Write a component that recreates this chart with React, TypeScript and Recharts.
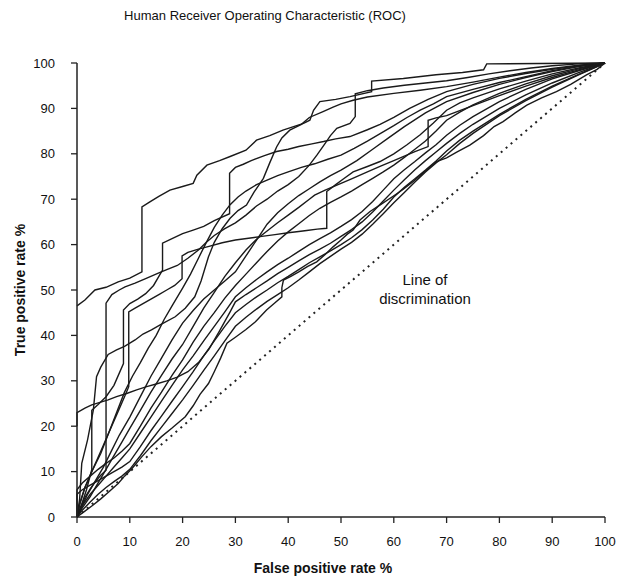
import React from 'react';
import { LineChart, Line, XAxis, YAxis } from 'recharts';

// axis ticks (percent)
const xTicks = [0, 10, 20, 30, 40, 50, 60, 70, 80, 90, 100];
const yTicks = [0, 10, 20, 30, 40, 50, 60, 70, 80, 90, 100];

// one array per reader, [false positive %, true positive %]
const rocA = [[0,46.5],[1.5,47.8],[3.4,50],[5.5,50.6],[7.8,51.8],[10,52.6],[12.3,54],[12.3,68.3],[13.8,69.4],[15.5,70.6],[17.6,72],[20,72.8],[22,73.5],[22.7,75.3],[24.6,77.5],[27,78.5],[29,79.4],[32,80.8],[34,83],[36.5,84],[39,85.2],[42.9,86.7],[44.1,87.4],[44.8,89.6],[46,91.5],[49,92],[51.7,92.6],[55.8,93.7],[55.8,96],[61.8,96.6],[68,97.4],[73,97.9],[77,98.5],[77.6,99.8],[100,100]];
const rocB = [[0,0],[0.5,4],[0.9,11.8],[2,17],[3.1,23.6],[3.7,30.9],[4.5,33],[5.9,35.8],[7.5,36.8],[9,37.6],[11,39],[12.5,40.3],[14.1,41.2],[16,42.5],[18.6,44.1],[20.5,46],[22.3,48.5],[23.5,52],[24.9,57.3],[26,60.5],[27.5,63.5],[29,65.8],[30.5,67.5],[32.1,68.7],[33.5,71.5],[35.3,74.6],[36.5,78],[37.8,81.5],[38.8,83.5],[40.3,85.2],[42.5,86.5],[44,88],[46.6,89.3],[48.5,90.3],[50,91],[52.3,91.8],[55,92.5],[60,93.3],[65,94],[70,94.8],[75,95.8],[80,96.9],[85,97.9],[90,98.8],[95,99.5],[100,100]];
const rocC = [[0,0],[0.8,2.5],[1.8,6],[2.8,10.5],[2.8,23.5],[4,24.8],[5.5,26.5],[7,29],[8.8,33.8],[8.8,45.6],[10,47],[11.5,48],[13,49.2],[14.5,51],[16.2,54.4],[16.2,60.3],[18,61.3],[20,62.4],[22,63.2],[24,64],[26,65.3],[28.9,66.8],[28.9,75.7],[30,77],[31.5,77.7],[33,78.5],[35.5,79.6],[37.8,80.5],[40,81],[42,81.6],[44.5,82.2],[46.7,82.7],[49,83.3],[51.7,83.8],[55,85.3],[57.4,86.5],[60,88],[63,90],[66.5,92],[70,93.7],[75,95.3],[80,96.6],[85,97.7],[90,98.6],[95,99.4],[100,100]];
const rocD = [[0,0],[0.7,2.2],[1.5,4.3],[2.5,6.2],[3.5,7.8],[4.5,9.2],[5.5,10.3],[5.5,47.1],[6.6,49],[8,50],[9.1,50.7],[11,51.5],[13,52.5],[15.4,53.7],[17,54.5],[19,55.4],[21,57],[23,58.8],[24.5,60.5],[26,62],[28,63.5],[30,64.8],[32,66.5],[34,68.5],[36,70],[38,71.8],[40,73.2],[42,75],[44,77.5],[45.5,79.8],[47,82.3],[48,84],[49.2,85.6],[51.7,86.7],[52.7,88.2],[52.7,93.2],[55,93.9],[58,94.5],[62,95.1],[66,95.6],[70,96.1],[74,96.8],[78,97.6],[82,98.3],[86,98.9],[90,99.4],[95,99.8],[100,100]];
const rocE = [[0,0],[0.5,3],[1.5,6.5],[3,10.5],[4.5,14],[6,18.5],[7.5,23],[9,27.5],[10.5,31],[12,34],[13.5,37.2],[15,40],[16.5,43.5],[18,46.5],[20,50.4],[21.5,53.5],[23,57],[24.5,60.5],[26,63.8],[27.5,66.5],[29,68.8],[30.5,70.5],[32,71.8],[34,73.2],[36,74.2],[38,75.2],[40,76],[42.5,77],[45,77.8],[47.5,78.8],[50,79.7],[52.5,81.2],[55,82.8],[57.5,84.5],[60,86.2],[62.5,88],[65,89.6],[67.5,91],[70,92.6],[75,94.2],[80,95.7],[85,97],[90,98.3],[95,99.3],[100,100]];
const rocF = [[0,0],[1,2.5],[2,5],[3.5,8],[5,11],[6.5,14.5],[8,18],[10,22],[12,26.5],[14,31],[16,35],[18,39],[20,42.7],[22,45.5],[24,48],[26,50],[28,52],[30,54],[32,57.5],[34,61],[36,64.5],[38,67],[40,69],[42,70.8],[44,72.3],[46,73.8],[48,75.2],[50,76.4],[53,78.5],[56,81],[59,83.5],[62,86],[66,89],[70,91.5],[75,93.5],[80,95.3],[85,96.8],[90,98.1],[95,99.2],[100,100]];
const rocG = [[0,0],[0.6,3],[1.5,6.5],[3,10.5],[4.5,14.5],[6,18.5],[7.5,22.5],[9,26.5],[9.8,28.7],[9.8,45.2],[11,46],[12.5,47],[14,48],[15.5,49],[17,50],[18.5,51],[19.9,52.5],[19.9,57.5],[21,58.3],[23,59],[25,59.6],[27.5,60.4],[30,61],[32.5,61.4],[35,61.8],[37.5,62.2],[40,62.6],[42,62.9],[43.5,63.1],[45.5,63.4],[47.3,63.6],[47.3,71.7],[49,73.2],[50.5,74.5],[52.3,76],[55,77.2],[57.4,78.3],[60,80],[62.5,82],[65,84.2],[67.5,86.8],[70,89.6],[72.5,91.2],[75,92.3],[80,94.3],[85,96],[90,97.6],[95,98.9],[100,100]];
const rocH = [[0,0],[1,2],[2.5,4.5],[4,7.5],[5.5,10.5],[7,13.5],[8.5,16.5],[10,19.5],[12,23.5],[14,27.5],[16,31.2],[18,34.8],[20,38],[22,42],[24,46],[26,49.5],[28,53],[30,56],[32,58.8],[34,61.2],[36,63],[38,64.8],[40,66.5],[42,68.2],[44,70],[45,70.9],[47,72],[50,73.5],[52,74.5],[55,76],[57.5,77.3],[60,78.5],[62,79.5],[64,80.5],[66.5,81.6],[66.5,87.4],[68,87.9],[70,88.4],[72.5,89.5],[75,90.6],[80,92.8],[85,94.9],[90,96.8],[95,98.5],[100,100]];
const rocI = [[0,0],[0,6],[1,7.5],[2.5,9],[4,10.5],[5.5,11.8],[7,13],[8.5,14.5],[10,16.2],[12,20],[14,24],[16,27.5],[18,31.2],[20,34.6],[22,38.5],[24,42],[26,45],[28,48.2],[30,51],[32,53.5],[34,56],[36,58.5],[38,60.8],[40,62.8],[42,64.6],[44,66.4],[46,68],[48,69.3],[50,70.5],[52,71.8],[54,73.2],[56,74.6],[58,76],[60,77.5],[62,79.2],[64,81],[66,82.8],[68,85],[70,87.4],[72.5,89.2],[75,90.8],[80,93.3],[85,95.4],[90,97.2],[95,98.7],[100,100]];
const rocJ = [[0,0],[1,2.5],[2.5,5],[4,7],[5.5,9],[7,11],[8.5,13],[10,15],[12,18.5],[14,22],[16,25.5],[18,29],[20,32.4],[22,35.5],[24,38.8],[26,42],[28,45.2],[30,48.5],[32,50.5],[34,52.3],[36,54],[38,55.6],[40,57],[42,58.5],[44,60],[46,61.3],[48,62.6],[50,64],[52,65.5],[54,67.3],[56,69.5],[58,72],[60,74.5],[62,76.5],[64,78.3],[66,80.2],[68,82],[70,84.1],[72.5,86.3],[75,88.2],[80,91.5],[85,94.2],[90,96.5],[95,98.3],[100,100]];
const rocK = [[0,20],[0,23],[1.5,24],[2.8,24.7],[4.5,25.3],[5.9,25.8],[7.5,26.5],[9.4,27.2],[11.3,28],[13.2,28.7],[15,29.3],[17,30],[19,30.8],[21,32],[23,34],[25,37],[27,41],[29,45.2],[30,47.4],[32,49],[34,50.5],[36,52],[38,53.6],[40,55],[42,56.4],[44,57.8],[46,59],[48,60.3],[50,61.8],[52,63.3],[54,65],[56,67.2],[58,69.6],[60,72],[62,74.3],[64,76.5],[66,78.5],[68,80.4],[70,82.3],[72.5,84.5],[75,86.5],[80,90],[85,93],[90,95.6],[95,97.9],[100,100]];
const rocL = [[0,0],[0,5],[1,6],[2.5,7],[4,8],[5.5,9],[7,10],[8.5,11],[10,12.2],[12,15.5],[14,19],[16,22.2],[18,25.5],[20,28.7],[22,32],[24,35.5],[26,38.8],[28,42],[30,45],[32,46.8],[34,48.5],[36,50],[38,51.6],[40,53],[42,54.5],[44,56],[46,57.3],[48,58.6],[50,60],[52,61.5],[54,63.3],[56,65.4],[58,67.8],[60,70.5],[62,72.6],[64,74.5],[66,76.4],[68,78.4],[70,80.6],[72.5,83],[75,85],[80,88.7],[85,92],[90,94.9],[95,97.5],[100,100]];
const rocM = [[0,0],[1,1.5],[2.5,3.3],[4,5],[5.5,6.5],[7,7.8],[8.5,9],[10,10.5],[12,13.5],[14,16.8],[16,19.8],[18,22.8],[20,25.8],[22,29],[24,32.3],[26,35.5],[28,38.8],[30,42],[32,44],[34,45.8],[36,47.5],[38,49],[40,50.5],[42,52.2],[44,54],[46,55.8],[48,57.4],[50,59],[52,60.5],[54,62.3],[56,64.5],[58,66.8],[60,69.2],[62,71.5],[64,73.8],[66,76],[68,78],[70,79.8],[72.5,82.3],[75,84.5],[80,88.4],[85,91.7],[90,94.7],[95,97.4],[100,100]];
const rocN = [[0,0],[1.5,1.3],[3,2.6],[4.5,4],[6,5.5],[7.8,7.4],[9,9],[10.5,10.8],[12.3,13.3],[14,15.5],[16,17.7],[18,19.6],[20.5,22.1],[22,24.5],[23.3,27],[24.9,29.4],[26,32],[27.2,35],[28.4,38.3],[30,39.6],[32,41.3],[33.8,43],[35.9,45.6],[37.5,47.2],[38.8,48.5],[38.8,50.5],[39.1,52.2],[40.5,53],[42,54],[43.7,55.2],[45.4,56.2],[47,57.8],[48.5,59.5],[50,61],[51.2,62.3],[52.3,63.2],[53.6,65.4],[55.5,67.3],[57.5,68.8],[59.8,70.6],[61.8,72.2],[63.8,74],[66,76.2],[68.1,78.3],[70,79.1],[72,80.4],[74.4,81.9],[77,84],[79,86],[80.7,87.1],[83,89],[85.2,90.7],[88,92.3],[90.8,93.7],[93.5,95.3],[96.5,97.4],[98.5,98.6],[100,100]];

// line of discrimination
const chance = [[0,0],[100,100]];

const readers = [rocA, rocB, rocC, rocD, rocE, rocF, rocG, rocH, rocI, rocJ, rocK, rocL, rocM, rocN];

const toPoints = (pts: number[][]) => pts.map(([x, y]) => ({ x, y }));

const font = '"Liberation Sans", Arial, Helvetica, sans-serif';

const Note = ({ x, y, children, style }: { x: number; y: number; children: React.ReactNode; style?: React.CSSProperties }) => (
  <div
    style={{
      position: 'absolute',
      left: x,
      top: y,
      transform: 'translate(-50%, -50%)',
      whiteSpace: 'nowrap',
      fontFamily: font,
      color: '#111',
      ...style,
    }}
  >
    {children}
  </div>
);

const App = () => {
  return (
    <div style={{ position: 'absolute', left: 0, top: 0, width: 619, height: 580, background: '#fff' }}>
      <LineChart width={619} height={580} margin={{ top: 63, right: 14, bottom: 0, left: 0 }}>
        <XAxis
          type="number"
          dataKey="x"
          domain={[0, 100]}
          ticks={xTicks}
          height={63}
          tickSize={6}
          tickMargin={14}
          axisLine={{ stroke: '#222', strokeWidth: 1.5 }}
          tickLine={{ stroke: '#222', strokeWidth: 1.3 }}
          tick={{ fill: '#111', fontSize: 13, fontFamily: font }}
        />
        <YAxis
          type="number"
          dataKey="y"
          domain={[0, 100]}
          ticks={yTicks}
          width={77}
          tickSize={6}
          tickMargin={16}
          axisLine={{ stroke: '#222', strokeWidth: 1.5 }}
          tickLine={{ stroke: '#222', strokeWidth: 1.3 }}
          tick={{ fill: '#111', fontSize: 13, fontFamily: font }}
        />
        <Line
          data={toPoints(chance)}
          dataKey="y"
          type="linear"
          stroke="#222"
          strokeWidth={2}
          strokeDasharray="2 4.5"
          dot={false}
          activeDot={false}
          isAnimationActive={false}
        />
        {readers.map((pts, i) => (
          <Line
            key={i}
            data={toPoints(pts)}
            dataKey="y"
            type="linear"
            stroke="#1a1a1a"
            strokeWidth={1.4}
            dot={false}
            activeDot={false}
            isAnimationActive={false}
          />
        ))}
      </LineChart>
      <Note x={265} y={15} style={{ fontSize: 13 }}>Human Receiver Operating Characteristic (ROC)</Note>
      <Note x={323} y={568} style={{ fontSize: 14, fontWeight: 'bold' }}>False positive rate %</Note>
      <Note x={20} y={290} style={{ fontSize: 14, fontWeight: 'bold', transform: 'translate(-50%, -50%) rotate(-90deg)' }}>
        True positive rate %
      </Note>
      <Note x={425} y={279} style={{ fontSize: 15 }}>Line of</Note>
      <Note x={425} y={298} style={{ fontSize: 15 }}>discrimination</Note>
    </div>
  );
};

export default App;
